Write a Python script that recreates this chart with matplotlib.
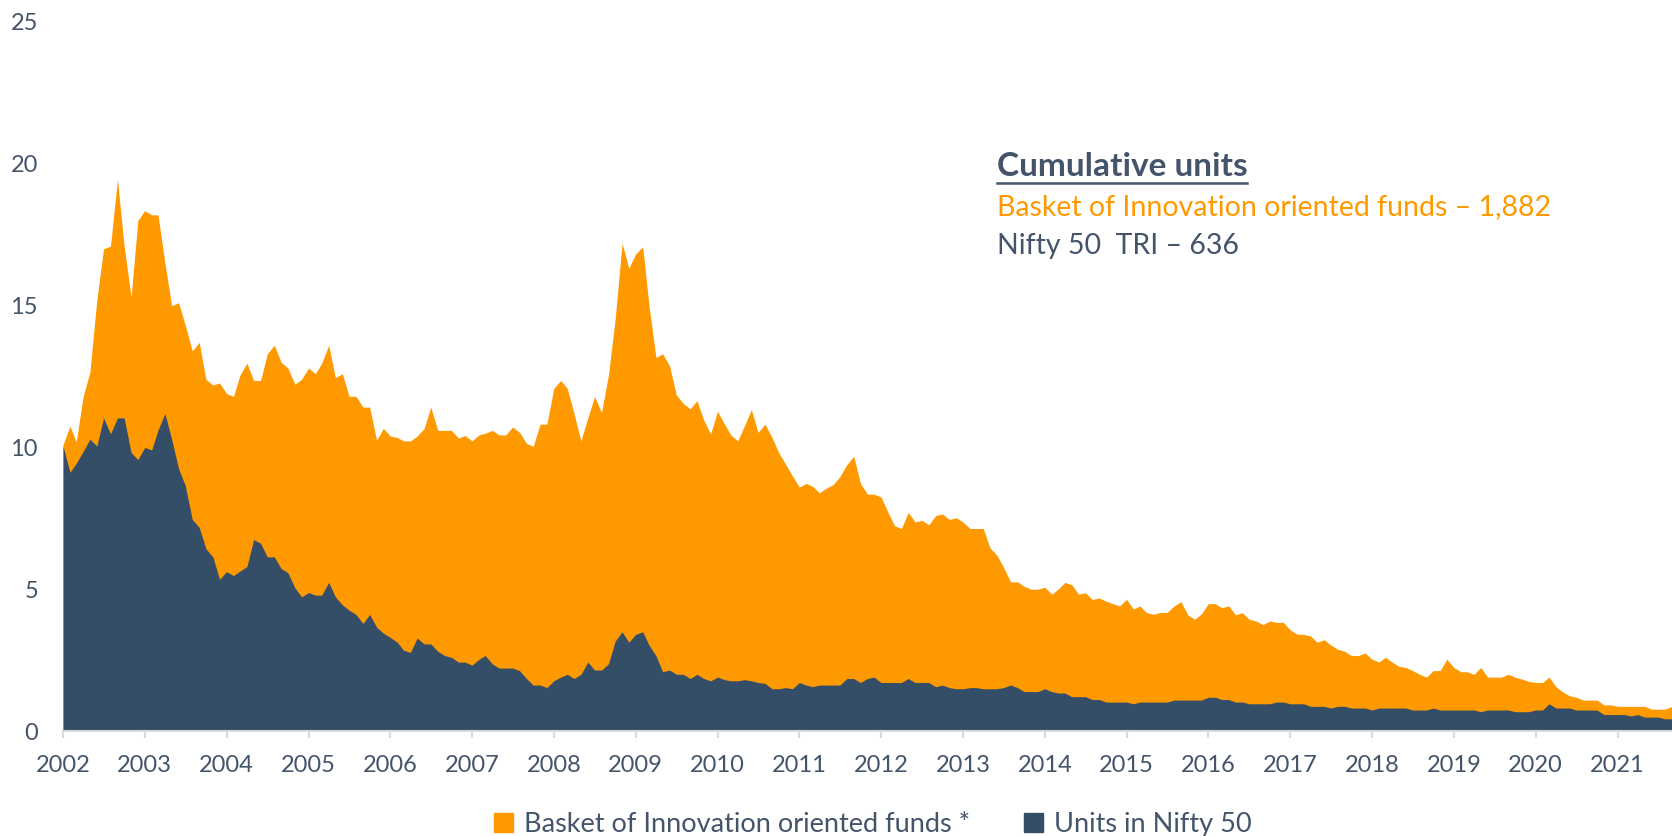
import numpy as np
import pandas as pd
import matplotlib
matplotlib.use("Agg")
import matplotlib.pyplot as plt
import matplotlib.dates as mdates
from matplotlib.patches import Patch
from matplotlib.lines import Line2D

plt.rcParams['font.family'] = ['Lato', 'DejaVu Sans']

# monthly units, Jan 2002 .. Sep 2021
basket = [
    10.1, 10.75, 10.2, 11.8, 12.65, 15.2, 17.0, 17.1, 19.45, 17.1, 15.3, 18.0,
    18.35, 18.2, 18.2, 16.5, 15.0, 15.1, 14.3, 13.4, 13.7, 12.4, 12.2, 12.27,
    11.9, 11.8, 12.55, 12.97, 12.36, 12.36, 13.3, 13.6, 13.0, 12.8, 12.23, 12.4,
    12.8, 12.6, 12.97, 13.6, 12.46, 12.6, 11.8, 11.8, 11.42, 11.42, 10.25, 10.67,
    10.4, 10.35, 10.23, 10.23, 10.4, 10.67, 11.42, 10.6, 10.6, 10.6, 10.33, 10.42,
    10.23, 10.44, 10.5, 10.6, 10.44, 10.44, 10.72, 10.53, 10.14, 10.04, 10.82, 10.82,
    12.08, 12.36, 12.08, 11.18, 10.23, 11.04, 11.8, 11.23, 12.55, 14.53, 17.2, 16.32,
    16.83, 17.07, 15.0, 13.17, 13.3, 12.87, 11.85, 11.55, 11.36, 11.65, 10.95, 10.48,
    11.27, 10.82, 10.44, 10.23, 10.76, 11.33, 10.53, 10.82, 10.35, 9.82, 9.4, 9.0,
    8.6, 8.73, 8.63, 8.4, 8.56, 8.69, 8.97, 9.39, 9.69, 8.73, 8.35, 8.35,
    8.25, 7.71, 7.24, 7.14, 7.71, 7.37, 7.43, 7.27, 7.6, 7.65, 7.46, 7.52,
    7.37, 7.14, 7.14, 7.14, 6.46, 6.2, 5.77, 5.26, 5.26, 5.1, 5.0, 5.0,
    5.07, 4.82, 5.0, 5.24, 5.16, 4.82, 4.88, 4.64, 4.69, 4.58, 4.49, 4.41,
    4.64, 4.3, 4.41, 4.17, 4.12, 4.18, 4.18, 4.41, 4.56, 4.1, 3.94, 4.13,
    4.49, 4.49, 4.35, 4.41, 4.1, 4.17, 3.94, 3.88, 3.75, 3.88, 3.83, 3.83,
    3.56, 3.41, 3.41, 3.35, 3.13, 3.22, 3.03, 2.88, 2.81, 2.66, 2.66, 2.75,
    2.53, 2.43, 2.6, 2.43, 2.28, 2.24, 2.13, 2.0, 1.9, 2.13, 2.13, 2.53,
    2.24, 2.09, 2.09, 2.0, 2.24, 1.9, 1.9, 1.9, 2.0, 1.9, 1.83, 1.75,
    1.71, 1.71, 1.9, 1.56, 1.38, 1.24, 1.19, 1.09, 1.09, 1.09, 0.92, 0.92,
    0.87, 0.87, 0.87, 0.87, 0.87, 0.77, 0.77, 0.77, 0.87,
]
nifty = [
    10.05, 9.12, 9.44, 9.86, 10.29, 10.05, 11.04, 10.48, 11.04, 11.04, 9.82, 9.57,
    10.0, 9.91, 10.61, 11.2, 10.29, 9.25, 8.65, 7.46, 7.18, 6.43, 6.14, 5.35,
    5.62, 5.48, 5.64, 5.8, 6.75, 6.62, 6.14, 6.14, 5.73, 5.58, 5.05, 4.73,
    4.88, 4.79, 4.79, 5.24, 4.73, 4.45, 4.26, 4.11, 3.79, 4.11, 3.66, 3.45,
    3.3, 3.13, 2.85, 2.77, 3.28, 3.07, 3.07, 2.81, 2.66, 2.6, 2.43, 2.43,
    2.32, 2.53, 2.66, 2.37, 2.22, 2.22, 2.22, 2.13, 1.85, 1.62, 1.62, 1.53,
    1.77, 1.9, 2.0, 1.85, 2.0, 2.43, 2.15, 2.15, 2.37, 3.17, 3.5, 3.13,
    3.41, 3.5, 3.03, 2.66, 2.09, 2.15, 2.0, 2.0, 1.85, 2.0, 1.85, 1.77,
    1.9, 1.81, 1.77, 1.77, 1.81, 1.77, 1.71, 1.68, 1.49, 1.49, 1.53, 1.49,
    1.71, 1.62, 1.56, 1.62, 1.62, 1.62, 1.62, 1.85, 1.85, 1.71, 1.85, 1.9,
    1.71, 1.71, 1.71, 1.71, 1.85, 1.71, 1.71, 1.71, 1.56, 1.62, 1.53, 1.49,
    1.49, 1.53, 1.53, 1.49, 1.49, 1.49, 1.53, 1.62, 1.53, 1.39, 1.39, 1.39,
    1.49, 1.39, 1.34, 1.34, 1.21, 1.21, 1.21, 1.11, 1.11, 1.02, 1.02, 1.02,
    1.02, 0.96, 1.02, 1.02, 1.02, 1.02, 1.02, 1.09, 1.09, 1.09, 1.09, 1.09,
    1.19, 1.19, 1.11, 1.11, 1.02, 1.02, 0.96, 0.96, 0.96, 0.96, 1.02, 1.02,
    0.96, 0.96, 0.96, 0.87, 0.87, 0.87, 0.81, 0.87, 0.87, 0.81, 0.81, 0.81,
    0.74, 0.81, 0.81, 0.81, 0.81, 0.81, 0.74, 0.74, 0.74, 0.81, 0.74, 0.74,
    0.74, 0.74, 0.74, 0.74, 0.68, 0.74, 0.74, 0.74, 0.74, 0.68, 0.68, 0.68,
    0.74, 0.74, 0.96, 0.81, 0.81, 0.81, 0.74, 0.74, 0.74, 0.74, 0.58, 0.58,
    0.58, 0.58, 0.53, 0.58, 0.49, 0.49, 0.49, 0.43, 0.43,
]
dates = pd.date_range("2002-01-01", periods=len(basket), freq="MS")

ORANGE = "#FF9900"
NAVY = "#344E68"
TXT = "#44546A"

fig = plt.figure(figsize=(16.72, 8.36), dpi=100)
ax = fig.add_axes([63/1672, 105/836, 1 - 63/1672, (731-22)/836])

ax.fill_between(dates, basket, color=ORANGE, lw=0)
ax.fill_between(dates, nifty, color=NAVY, lw=0)

ax.set_ylim(0, 25)
ax.set_yticks([0, 5, 10, 15, 20, 25])
ax.set_xlim(dates[0], dates[-1])
ax.xaxis.set_major_locator(mdates.YearLocator())
ax.xaxis.set_major_formatter(mdates.DateFormatter("%Y"))

for s in ["top", "right", "left"]:
    ax.spines[s].set_visible(False)
ax.spines["bottom"].set_color("#D9D9D9")
ax.spines["bottom"].set_linewidth(1.5)
ax.tick_params(axis="y", length=0, pad=18, labelsize=17, labelcolor=TXT)
ax.tick_params(axis="x", length=5, width=1.5, color="#D9D9D9", pad=12,
               labelsize=17, labelcolor=TXT)

# annotation block
t1 = fig.text(0.596, 0.801, "Cumulative units", fontsize=24, fontweight="bold",
              color=TXT, ha="left", va="center")
fig.text(0.596, 0.752, "Basket of Innovation oriented funds \u2013 1,882",
         fontsize=20.5, color=ORANGE, ha="left", va="center")
fig.text(0.596, 0.706, "Nifty 50  TRI \u2013 636", fontsize=20.5, color=TXT,
         ha="left", va="center")

fig.canvas.draw()
bb = t1.get_window_extent().transformed(fig.transFigure.inverted())
fig.add_artist(Line2D([bb.x0, bb.x1], [bb.y0 - 0.002, bb.y0 - 0.002],
                     transform=fig.transFigure, color=TXT, lw=1.8))

handles = [Patch(color=ORANGE, label="Basket of Innovation oriented funds *"),
           Patch(color=NAVY, label="Units in Nifty 50")]
fig.legend(handles=handles, loc="center", bbox_to_anchor=(0.522, 0.014), ncol=2,
           frameon=False, fontsize=19.5, labelcolor=TXT, handlelength=0.7,
           handleheight=0.7, handletextpad=0.4, columnspacing=2.0)

fig.savefig("out.png", dpi=100)
